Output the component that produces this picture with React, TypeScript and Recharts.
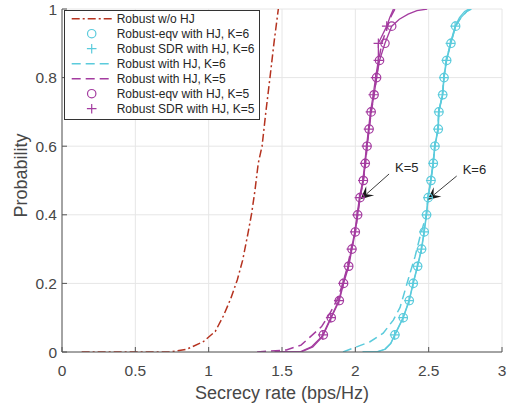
import React from 'react';
import {
  ComposedChart, Line, XAxis, YAxis, CartesianGrid, Legend, ReferenceLine,
} from 'recharts';

const RED = '#b5321f';
const CYAN = '#5bcbdc';
const PURPLE = '#a43ca0';
const AXIS = '#555555';
const TEXT = '#474747';
const FONT = '"Liberation Sans", Arial, sans-serif';

const xTicks = [0, 0.5, 1, 1.5, 2, 2.5, 3];
const yTicks = [0, 0.2, 0.4, 0.6, 0.8, 1];

// probabilities where markers sit
const markProb = [0.05, 0.1, 0.15, 0.2, 0.25, 0.3, 0.35, 0.4, 0.45, 0.5, 0.55, 0.6, 0.65, 0.7, 0.75, 0.8, 0.85, 0.9, 0.95];

// Robust w/o HJ
const redRate = [0.134, 0.736, 0.85, 0.963, 1.045, 1.1, 1.15, 1.195, 1.232, 1.268, 1.293, 1.316, 1.338, 1.364, 1.39, 1.418, 1.445, 1.475];
const redProb = [0, 0, 0.008, 0.03, 0.06, 0.105, 0.155, 0.21, 0.268, 0.346, 0.404, 0.472, 0.55, 0.6, 0.7, 0.8, 0.9, 1];

// K=5
const k5EqvMark = [1.782, 1.836, 1.891, 1.92, 1.955, 1.977, 2.0, 2.016, 2.032, 2.055, 2.068, 2.08, 2.094, 2.108, 2.128, 2.145, 2.165, 2.202, 2.248];
const k5EqvLowRate = [1.45, 1.62, 1.7, 1.76];
const k5EqvLowProb = [0, 0, 0.015, 0.04];
const k5EqvHighRate = [2.3, 2.36, 2.42, 2.49];
const k5EqvHighProb = [0.97, 0.985, 0.995, 1];

const k5SdrMark = [1.778, 1.832, 1.887, 1.916, 1.951, 1.973, 1.996, 2.012, 2.028, 2.051, 2.064, 2.076, 2.09, 2.103, 2.122, 2.138, 2.157, 2.157, 2.214];
const k5SdrLowRate = [1.45, 1.63, 1.71, 1.765];
const k5SdrLowProb = [0, 0, 0.015, 0.04];
const k5SdrHighRate = [2.235, 2.26];
const k5SdrHighProb = [0.975, 1];

const k5DashRate = [1.33, 1.53, 1.63, 1.7, 1.77, 1.827, 1.873, 1.907, 1.941, 1.972, 2.0, 2.016, 2.032, 2.055, 2.07, 2.08, 2.094, 2.108, 2.128, 2.145, 2.16, 2.18, 2.22, 2.245, 2.27];
const k5DashProb = [0, 0.006, 0.02, 0.047, 0.074, 0.113, 0.15, 0.19, 0.24, 0.3, 0.35, 0.4, 0.45, 0.5, 0.55, 0.6, 0.65, 0.7, 0.75, 0.8, 0.85, 0.9, 0.95, 0.98, 1];

// K=6
const k6EqvMark = [2.27, 2.327, 2.368, 2.395, 2.425, 2.452, 2.47, 2.486, 2.497, 2.516, 2.532, 2.543, 2.566, 2.57, 2.596, 2.605, 2.623, 2.652, 2.684];
const k6EqvLowRate = [2.05, 2.14, 2.2, 2.24];
const k6EqvLowProb = [0, 0, 0.008, 0.025];
const k6EqvHighRate = [2.72, 2.76, 2.79];
const k6EqvHighProb = [0.975, 0.993, 1];

const k6SdrMark = [2.268, 2.325, 2.366, 2.393, 2.423, 2.45, 2.468, 2.484, 2.495, 2.514, 2.53, 2.541, 2.563, 2.568, 2.594, 2.603, 2.62, 2.648, 2.68];
const k6SdrLowRate = [2.05, 2.145, 2.205, 2.243];
const k6SdrLowProb = [0, 0, 0.008, 0.025];
const k6SdrHighRate = [2.71, 2.745, 2.775];
const k6SdrHighProb = [0.975, 0.993, 1];

const k6DashRate = [1.916, 2.009, 2.1, 2.19, 2.259, 2.305, 2.339, 2.373, 2.407, 2.441, 2.484, 2.495, 2.514, 2.53, 2.541, 2.563, 2.568, 2.594, 2.603, 2.62, 2.65, 2.684, 2.72, 2.76, 2.79];
const k6DashProb = [0, 0.015, 0.03, 0.055, 0.093, 0.13, 0.18, 0.23, 0.278, 0.336, 0.4, 0.45, 0.5, 0.55, 0.6, 0.65, 0.7, 0.75, 0.8, 0.85, 0.9, 0.95, 0.975, 0.993, 1];

type Pt = { x: number; p: number; m?: boolean };

const zip = (xs: number[], ps: number[]): Pt[] => xs.map((x, i) => ({ x, p: ps[i] }));
const marked = (lowX: number[], lowP: number[], mid: number[], hiX: number[], hiP: number[]): Pt[] => [
  ...zip(lowX, lowP),
  ...mid.map((x, i) => ({ x, p: markProb[i], m: true })),
  ...zip(hiX, hiP),
];

const redData = zip(redRate, redProb);
const k5Eqv = marked(k5EqvLowRate, k5EqvLowProb, k5EqvMark, k5EqvHighRate, k5EqvHighProb);
const k5Sdr = marked(k5SdrLowRate, k5SdrLowProb, k5SdrMark, k5SdrHighRate, k5SdrHighProb);
const k5Dash = zip(k5DashRate, k5DashProb);
const k6Eqv = marked(k6EqvLowRate, k6EqvLowProb, k6EqvMark, k6EqvHighRate, k6EqvHighProb);
const k6Sdr = marked(k6SdrLowRate, k6SdrLowProb, k6SdrMark, k6SdrHighRate, k6SdrHighProb);
const k6Dash = zip(k6DashRate, k6DashProb);

const circleDot = (color: string) => (props: any) => {
  const { cx, cy, payload, index } = props;
  if (!payload || !payload.m) return <g key={index} />;
  return <circle key={index} cx={cx} cy={cy} r={4.2} fill="none" stroke={color} strokeWidth={1.2} />;
};

const plusDot = (color: string) => (props: any) => {
  const { cx, cy, payload, index } = props;
  if (!payload || !payload.m) return <g key={index} />;
  const s = 4.8;
  return (
    <path key={index} d={`M${cx - s},${cy}H${cx + s}M${cx},${cy - s}V${cy + s}`}
      stroke={color} strokeWidth={1.2} fill="none" />
  );
};

// annotation arrow, tail first, tip second
const arrow = (text: string) => (props: any) => {
  const { x1, y1, x2, y2 } = props;
  const dx = x2 - x1;
  const dy = y2 - y1;
  const len = Math.sqrt(dx * dx + dy * dy);
  const ux = dx / len;
  const uy = dy / len;
  const nx = -uy;
  const ny = ux;
  const L = 13;
  const W = 6;
  const bx = x2 - ux * L;
  const by = y2 - uy * L;
  const ix = x2 - ux * L * 0.6;
  const iy = y2 - uy * L * 0.6;
  return (
    <g>
      <line x1={x1} y1={y1} x2={ix} y2={iy} stroke="#262626" strokeWidth={0.9} />
      <polygon
        points={`${x2},${y2} ${bx + nx * W},${by + ny * W} ${ix},${iy} ${bx - nx * W},${by - ny * W}`}
        fill="#1a1a1a"
      />
      <text x={x1 + 6} y={y1 - 2} fontSize={13} fontFamily={FONT} fill="#262626">{text}</text>
    </g>
  );
};

const legendRows = [
  { name: 'Robust w/o HJ', color: RED, kind: 'dashdot' },
  { name: 'Robust-eqv with HJ, K=6', color: CYAN, kind: 'circle' },
  { name: 'Robust SDR with HJ, K=6', color: CYAN, kind: 'plus' },
  { name: 'Robust with HJ, K=6', color: CYAN, kind: 'dash' },
  { name: 'Robust with HJ, K=5', color: PURPLE, kind: 'dash' },
  { name: 'Robust-eqv with HJ, K=5', color: PURPLE, kind: 'circle' },
  { name: 'Robust SDR with HJ, K=5', color: PURPLE, kind: 'plus' },
];

const LegendBox = () => (
  <svg width={196} height={110} style={{ display: 'block' }}>
    <rect x={0.5} y={0.5} width={195} height={109} fill="#ffffff" stroke="#333333" strokeWidth={1} />
    {legendRows.map((r, i) => {
      const y = 8.7 + 15 * i;
      let sym: React.ReactNode = null;
      if (r.kind === 'dashdot') {
        sym = <line x1={7.7} y1={y} x2={48.3} y2={y} stroke={r.color} strokeWidth={1.5} strokeDasharray="8 3 2 3" />;
      } else if (r.kind === 'dash') {
        sym = <line x1={7.7} y1={y} x2={48.3} y2={y} stroke={r.color} strokeWidth={1.5} strokeDasharray="9 5" />;
      } else if (r.kind === 'circle') {
        sym = <circle cx={27.7} cy={y} r={4.2} fill="none" stroke={r.color} strokeWidth={1.2} />;
      } else {
        sym = <path d={`M${27.7 - 4.8},${y}H${27.7 + 4.8}M27.7,${y - 4.8}V${y + 4.8}`} stroke={r.color} strokeWidth={1.2} />;
      }
      return (
        <g key={r.name}>
          {sym}
          <text x={52.7} y={y + 4.3} fontSize={12} fontFamily={FONT} fill="#262626">{r.name}</text>
        </g>
      );
    })}
  </svg>
);

export default function App() {
  const tickStyle = { fontSize: 15.5, fill: TEXT, fontFamily: FONT };
  return (
    <div style={{ position: 'absolute', left: 0, top: 0, background: '#fff' }}>
      <ComposedChart width={518} height={407} margin={{ top: 9, right: 16, bottom: 0, left: 0 }}>
        <CartesianGrid stroke="#e6e6e6" strokeWidth={1} />
        <XAxis
          dataKey="x" type="number" domain={[0, 3]} ticks={xTicks} allowDataOverflow
          height={55} tickSize={-5} tickMargin={18} stroke={AXIS} tick={tickStyle}
          label={{ value: 'Secrecy rate (bps/Hz)', position: 'insideBottom', offset: 8, style: { fontSize: 18, fill: TEXT, fontFamily: FONT } }}
        />
        <XAxis
          xAxisId="top" orientation="top" type="number" domain={[0, 3]} ticks={xTicks}
          height={0} tickSize={-5} tick={false} stroke={AXIS}
        />
        <YAxis
          type="number" domain={[0, 1]} ticks={yTicks} allowDataOverflow
          width={62} tickSize={-5} tickMargin={10} stroke={AXIS} tick={tickStyle}
          label={{ value: 'Probability', angle: -90, position: 'insideLeft', offset: 21, dy: -5, style: { fontSize: 18, fill: TEXT, fontFamily: FONT, textAnchor: 'middle' } }}
        />
        <YAxis
          yAxisId="right" orientation="right" type="number" domain={[0, 1]} ticks={yTicks}
          width={0} tickSize={-5} tick={false} stroke={AXIS}
        />
        <Legend
          layout="vertical" align="center" verticalAlign="middle"
          wrapperStyle={{ left: 64, top: 10, width: 196, height: 110 }}
          content={() => <LegendBox />}
        />
        <Line data={redData} dataKey="p" stroke={RED} strokeWidth={1.5} strokeDasharray="8 3 2 3" dot={false} activeDot={false} isAnimationActive={false} />
        <Line data={k6Eqv} dataKey="p" stroke={CYAN} strokeWidth={1.3} dot={circleDot(CYAN)} activeDot={false} isAnimationActive={false} />
        <Line data={k6Sdr} dataKey="p" stroke={CYAN} strokeWidth={1.3} dot={plusDot(CYAN)} activeDot={false} isAnimationActive={false} />
        <Line data={k6Dash} dataKey="p" stroke={CYAN} strokeWidth={1.5} strokeDasharray="9 5" dot={false} activeDot={false} isAnimationActive={false} />
        <Line data={k5Dash} dataKey="p" stroke={PURPLE} strokeWidth={1.5} strokeDasharray="9 5" dot={false} activeDot={false} isAnimationActive={false} />
        <Line data={k5Eqv} dataKey="p" stroke={PURPLE} strokeWidth={1.3} dot={circleDot(PURPLE)} activeDot={false} isAnimationActive={false} />
        <Line data={k5Sdr} dataKey="p" stroke={PURPLE} strokeWidth={1.3} dot={plusDot(PURPLE)} activeDot={false} isAnimationActive={false} />
        <ReferenceLine segment={[{ x: 2.23, y: 0.519 }, { x: 2.035, y: 0.445 }]} shape={arrow('K=5')} ifOverflow="visible" />
        <ReferenceLine segment={[{ x: 2.691, y: 0.513 }, { x: 2.492, y: 0.443 }]} shape={arrow('K=6')} ifOverflow="visible" />
      </ComposedChart>
    </div>
  );
}
